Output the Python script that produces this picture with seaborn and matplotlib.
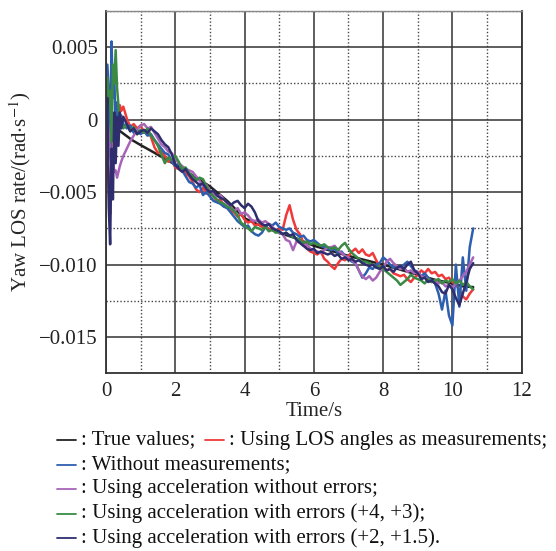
import numpy as np
import pandas as pd
import matplotlib
matplotlib.use("Agg")
import matplotlib.pyplot as plt
from matplotlib.lines import Line2D
from matplotlib.ticker import MultipleLocator, FixedLocator
import seaborn as sns

# ---------------------------------------------------------------- data
# Sample times (s) of the filtered estimates
time_s = [0.00, 0.04, 0.08, 0.12, 0.16, 0.20, 0.24, 0.28, 0.32, 0.36, 0.40, 0.44,
          0.5, 0.6, 0.7, 0.8, 0.9, 1.0, 1.1, 1.2, 1.3, 1.4,
          1.5, 1.6, 1.7, 1.8, 1.9, 2.0, 2.1, 2.2, 2.3, 2.4,
          2.5, 2.6, 2.7, 2.8, 2.9, 3.0, 3.1, 3.2, 3.3, 3.4,
          3.5, 3.6, 3.7, 3.8, 3.9, 4.0, 4.1, 4.2, 4.3, 4.4,
          4.5, 4.6, 4.7, 4.8, 4.9, 5.0, 5.1, 5.2, 5.3, 5.4,
          5.5, 5.6, 5.7, 5.8, 5.9, 6.0, 6.1, 6.2, 6.3, 6.4,
          6.5, 6.6, 6.7, 6.8, 6.9, 7.0, 7.1, 7.2, 7.3, 7.4,
          7.5, 7.6, 7.7, 7.8, 7.9, 8.0, 8.1, 8.2, 8.3, 8.4,
          8.5, 8.6, 8.7, 8.8, 8.9, 9.0, 9.1, 9.2, 9.3, 9.4,
          9.5, 9.6, 9.7, 9.8, 9.9, 10.0, 10.1, 10.2, 10.3, 10.4,
          10.5, 10.6]

# Yaw LOS rate estimates, in 1e-3 rad/s
los_angles = [-0.5, -2.0, -5.0, -6.5, -1.0, 0.3, -1.5, 0.6, -0.2, 0.4, 1.0, 0.6,
              0.9, 0.1, -0.5, -0.3, -0.6, -0.4, -0.9, -0.7, -1.2, -1.9,
              -2.3, -2.2, -2.5, -2.9, -2.8, -3.3, -3.4, -3.3, -3.7, -3.9,
              -4.3, -4.8, -5.0, -4.7, -5.1, -5.0, -5.3, -5.6, -5.5, -5.9,
              -6.1, -6.3, -6.4, -6.7, -6.5, -6.9, -7.1, -7.0, -7.3, -7.2,
              -7.4, -7.3, -7.6, -7.5, -7.7, -7.5, -7.6, -6.6, -5.9, -6.9,
              -7.6, -7.9, -8.5, -8.9, -9.1, -9.2, -9.3, -9.1, -9.6, -9.8,
              -10.1, -10.3, -9.9, -9.6, -9.7, -9.4, -9.1, -8.9, -9.2, -8.95,
              -9.3, -9.4, -9.2, -9.7, -10.1, -10.2, -10.4, -10.3, -10.6, -10.7,
              -10.8, -10.7, -11.0, -11.2, -10.9, -10.7, -10.4, -10.6, -10.3, -10.6,
              -10.5, -10.8, -10.7, -11.0, -10.9, -11.2, -11.4, -11.7, -12.2, -12.4,
              -12.0, -11.7]

no_measurements = [1.6, 3.8, 2.0, -2.5, 5.4, 1.5, 3.0, -1.0, 1.2, 0.0, -0.6, 0.3,
                   -0.3, -0.6, -0.4, -0.9, -0.7, -1.0, -0.8, -1.1, -1.0, -1.4,
                   -1.7, -2.0, -2.3, -2.4, -2.9, -3.2, -3.0, -3.5, -3.9, -4.3,
                   -4.4, -4.7, -4.5, -5.2, -5.0, -5.3, -5.6, -5.7, -5.8, -6.0,
                   -6.1, -6.4, -6.7, -7.0, -7.2, -7.4, -7.3, -7.7, -7.9, -8.0,
                   -7.8, -7.4, -7.2, -7.3, -7.1, -7.4, -7.5, -7.6, -7.5, -7.8,
                   -7.9, -8.1, -8.0, -8.3, -8.4, -8.3, -8.5, -8.7, -8.8, -8.9,
                   -9.0, -8.9, -9.2, -9.1, -9.4, -9.6, -9.8, -9.9, -10.4, -10.9,
                   -10.6, -10.2, -10.3, -10.0, -9.9, -9.5, -9.7, -10.0, -10.2, -10.1,
                   -10.3, -10.0, -9.8, -10.1, -10.4, -10.5, -10.8, -10.6, -10.9, -11.1,
                   -11.3, -12.0, -13.1, -11.8, -13.5, -14.2, -10.0, -12.9, -9.5, -11.8,
                   -8.8, -7.5]

accel_no_error = [-0.3, 0.2, -1.0, -2.5, -3.2, -2.8, -3.6, -3.5, -4.0, -3.6, -3.2, -2.9,
                  -2.5, -2.0, -1.5, -1.1, -0.7, -0.4, -0.3, -0.6, -0.5, -0.9,
                  -1.3, -1.7, -1.9, -2.2, -2.3, -2.7, -3.0, -3.2, -3.4, -3.5,
                  -3.6, -3.9, -4.2, -4.6, -4.5, -4.9, -5.1, -5.3, -5.2, -5.5,
                  -5.8, -6.0, -6.3, -6.1, -6.5, -6.4, -6.6, -6.9, -7.0, -6.9,
                  -7.1, -7.0, -7.2, -7.4, -7.6, -7.8, -7.9, -8.3, -8.4, -9.0,
                  -8.4, -8.5, -8.7, -8.6, -8.9, -9.0, -9.1, -9.2, -9.0, -8.8,
                  -8.8, -8.7, -9.0, -9.2, -9.4, -9.5, -9.7, -9.9, -10.4, -10.8,
                  -11.0, -10.8, -11.1, -10.9, -10.5, -10.2, -9.8, -9.6, -9.9, -10.1,
                  -10.3, -10.2, -10.5, -10.4, -10.6, -10.5, -10.8, -10.9, -11.0, -11.2,
                  -11.1, -11.3, -11.2, -11.5, -11.4, -11.6, -11.3, -11.1, -10.8, -10.5,
                  -10.0, -9.5]

accel_err_4_3 = [0.8, 2.9, 1.0, 2.0, -1.5, 3.8, 2.5, 4.8, 2.2, 1.0, -0.5, -0.2,
                 -0.6, -0.3, -0.8, -0.5, -1.0, -0.7, -0.9, -0.6, -1.1, -1.4,
                 -1.8, -2.4, -3.0, -2.6, -2.8, -2.5, -2.9, -3.4, -3.3, -3.7,
                 -3.9, -4.2, -4.0, -4.1, -4.6, -5.0, -5.3, -5.5, -5.7, -5.8,
                 -6.0, -6.1, -6.3, -6.6, -7.1, -7.3, -7.5, -7.7, -7.4, -7.5,
                 -7.6, -7.4, -7.7, -7.6, -7.8, -7.7, -7.9, -7.8, -8.0, -8.1,
                 -8.2, -8.3, -8.5, -8.4, -8.6, -8.5, -8.6, -8.7, -8.6, -8.8,
                 -8.9, -8.8, -9.0, -8.7, -8.5, -8.9, -9.2, -9.4, -9.6, -9.8,
                 -9.8, -9.9, -10.0, -10.2, -10.1, -10.3, -10.5, -10.7, -10.9, -11.1,
                 -11.4, -11.2, -11.0, -10.7, -10.9, -11.0, -11.1, -11.3, -11.0, -11.2,
                 -11.1, -11.0, -11.3, -11.1, -11.2, -11.0, -11.3, -11.1, -11.4, -11.2,
                 -11.5, -11.7]

accel_err_2_15 = [-0.5, 1.5, -6.0, -8.6, -2.0, -5.5, 0.5, -3.0, 0.2, -1.8, 0.5, -0.6,
                  0.2, -0.3, -0.8, -0.6, -1.0, -0.8, -0.7, -0.9, -0.6, -0.8,
                  -1.0, -1.4, -1.7, -1.9, -2.4, -3.1, -3.4, -3.6, -3.4, -3.8,
                  -4.1, -4.3, -4.5, -4.4, -4.8, -5.0, -4.9, -5.2, -5.4, -5.5,
                  -5.7, -5.9, -5.7, -5.6, -5.9, -6.1, -5.8, -6.0, -6.4, -7.0,
                  -7.2, -7.3, -7.2, -7.5, -7.6, -7.7, -7.9, -7.8, -8.0, -7.9,
                  -8.3, -8.5, -8.7, -8.9, -9.0, -8.9, -9.2, -9.1, -9.2, -9.3,
                  -9.2, -9.4, -9.3, -9.6, -9.5, -9.7, -9.6, -9.8, -9.7, -9.9,
                  -10.0, -10.1, -10.0, -10.2, -10.3, -10.1, -10.4, -10.3, -10.5, -10.2,
                  -10.1, -10.3, -10.0, -9.8, -10.4, -10.6, -11.0, -10.9, -11.2, -11.1,
                  -11.3, -11.5, -11.9, -12.0, -11.4, -11.7, -12.3, -12.8, -12.0, -11.2,
                  -10.3, -9.9]

# True LOS rate (smooth reference trajectory)
true_time_s = [0.3, 0.75, 1.0, 1.3, 1.67, 2.0, 2.5, 3.0, 3.5, 4.0, 4.5, 5.0,
               5.5, 6.0, 6.5, 7.0, 7.5, 8.0, 8.5, 9.0, 9.5, 10.0, 10.3, 10.6]
true_values = [-0.6, -1.4, -1.75, -2.15, -2.65, -3.1, -3.85, -4.6, -5.6, -6.8, -7.35, -7.8,
               -8.2, -8.7, -9.05, -9.4, -9.7, -10.0, -10.35, -10.7, -11.05, -11.3, -11.5, -11.55]

legend_labels = ["True values;", "Using LOS angles as measurements;",
                 "Without measurements;", "Using acceleration without errors;",
                 "Using acceleration with errors (+4, +3);",
                 "Using acceleration with errors (+2, +1.5)."]

y_ticks = [0.005, 0.0, -0.005, -0.010, -0.015]
y_tick_labels = ["0.005", "0", "\u22120.005", "\u22120.010", "\u22120.015"]
x_ticks = [0, 2, 4, 6, 8, 10, 12]

colors = ["#222222", "#f03a3a", "#2d5fb0", "#a865b8", "#3a8a45", "#2e2e6e"]

# ---------------------------------------------------------------- frame
frames = [pd.DataFrame({"t": true_time_s, "rate": np.array(true_values) * 1e-3,
                        "series": legend_labels[0]})]
for lab, vals in zip(legend_labels[1:], [los_angles, no_measurements, accel_no_error,
                                         accel_err_4_3, accel_err_2_15]):
    frames.append(pd.DataFrame({"t": time_s, "rate": np.array(vals) * 1e-3, "series": lab}))
df = pd.concat(frames, ignore_index=True)

# ---------------------------------------------------------------- figure
sns.set_theme(style="white")
plt.rcParams["font.family"] = ["Liberation Serif", "DejaVu Serif"]
plt.rcParams["mathtext.fontset"] = "stix"

fig = plt.figure(figsize=(5.56, 5.51), dpi=100)
ax = fig.add_axes([0.1906, 0.3225, 0.7477, 0.6575])

sns.lineplot(data=df, x="t", y="rate", hue="series", hue_order=legend_labels,
             palette=colors, estimator=None, sort=False, legend=False,
             linewidth=1.8, ax=ax)

ax.set_xlim(0, 12)
ax.set_ylim(-0.0175, 0.0075)
ax.xaxis.set_major_locator(FixedLocator(x_ticks))
ax.xaxis.set_minor_locator(MultipleLocator(1))
ax.yaxis.set_major_locator(FixedLocator(y_ticks))
ax.yaxis.set_minor_locator(MultipleLocator(0.0025))
ax.set_yticklabels(y_tick_labels)

ax.grid(which="major", color="#333333", linewidth=1.1, linestyle="-")
ax.grid(which="minor", color="#444444", linewidth=1.0, linestyle=(0, (1, 1.5)))
ax.set_axisbelow(True)
for side in ["left", "bottom", "right"]:
    ax.spines[side].set_color("#333333")
    ax.spines[side].set_linewidth(1.3)
ax.spines["top"].set_color("#888888")
ax.spines["top"].set_linewidth(1.0)

ax.tick_params(which="major", direction="in", length=4, width=1.2, colors="#222222",
               labelsize=15, pad=6)
ax.tick_params(which="minor", length=0)

ax.set_xlabel("Time/s", fontsize=15, labelpad=1)
ax.set_ylabel("Yaw LOS rate/(rad$\\cdot$s$^{-1}$)", fontsize=15, labelpad=4)

# ---------------------------------------------------------------- legend rows
def key(x0, y, color, text):
    fig.add_artist(Line2D([x0 / 556, (x0 + 19) / 556], [1 - y / 551, 1 - y / 551],
                          transform=fig.transFigure, color=color, linewidth=1.3))
    fig.text((x0 + 24) / 556, 1 - y / 551, ": " + text, fontsize=15,
             va="center", ha="left", color="#111111")

rows_y = [440, 464.5, 489, 513.5, 538]
key(57, rows_y[0], colors[0], legend_labels[0])
key(205, rows_y[0], colors[1], legend_labels[1])
for i in range(2, 6):
    key(57, rows_y[i - 1], colors[i], legend_labels[i])

fig.savefig("out.png", dpi=100)
